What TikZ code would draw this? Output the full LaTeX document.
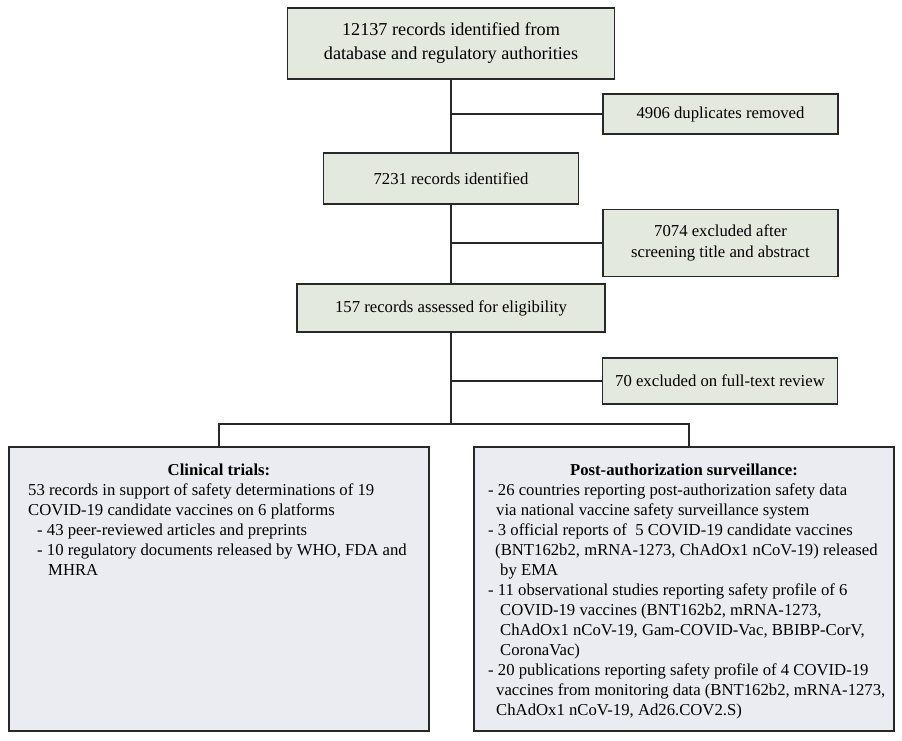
\documentclass[tikz,border=0pt]{standalone}
\usepackage{fontspec}
\setmainfont{Liberation Serif}
\definecolor{boxgreen}{RGB}{227,233,222}
\definecolor{boxgrey}{RGB}{235,236,242}
\definecolor{edgecol}{RGB}{40,40,40}
\tikzset{
  greenbox/.style={draw=edgecol, line width=1.5pt, fill=boxgreen, inner sep=0pt, align=center, font=\fontsize{16.7}{21}\selectfont},
  bigbox/.style={draw=edgecol, line width=1.5pt, fill=boxgrey, inner sep=0pt},
  link/.style={draw=edgecol, line width=1.5pt},
  bodyline/.style={inner sep=0pt, anchor=base west, font=\fontsize{16.7}{20}\selectfont},
  titleline/.style={inner sep=0pt, anchor=base, font=\fontsize{16.7}{20}\selectfont\bfseries},
}
\begin{document}
\begin{tikzpicture}[x=1pt,y=-1pt]
\useasboundingbox (0,0) rectangle (902,740);
% main flow boxes
\node[greenbox, minimum width=327pt, minimum height=71pt, font=\fontsize{18.2}{24}\selectfont] (top) at (451,43.5) {12137 records identified from\\database and regulatory authorities};
\node[greenbox, minimum width=235pt, minimum height=40pt] (dup) at (720.5,114) {4906 duplicates removed};
\node[greenbox, minimum width=255pt, minimum height=51pt] (r7231) at (451,178.5) {7231 records identified};
\node[greenbox, minimum width=235pt, minimum height=67pt] (excl) at (720.5,243) {7074 excluded after\\screening title and abstract};
\node[greenbox, minimum width=308pt, minimum height=48pt] (r157) at (451,308) {157 records assessed for eligibility};
\node[greenbox, minimum width=235pt, minimum height=46pt] (ft) at (720,381) {70 excluded on full-text review};
% bottom boxes
\node[bigbox, minimum width=420pt, minimum height=284pt] (left) at (219,589) {};
\node[bigbox, minimum width=420pt, minimum height=284pt] (right) at (684,589) {};
\coordinate (split) at (451,424);
\coordinate (rtop) at (689,447);
% connectors
\draw[link] (top.south) -- (r7231.north);
\draw[link] (dup.west) -- (dup.west -| top.south);
\draw[link] (r7231.south) -- (r157.north);
\draw[link] (excl.west) -- (excl.west -| r7231.south);
\draw[link] (r157.south) -- (split);
\draw[link] (ft.west) -- (ft.west -| r157.south);
\draw[link] (left.north) |- (split) -| (rtop);
% left box text
\node[titleline] (ltitle) at (219,475) {Clinical trials:};
\node[bodyline] (l1) at (28,495) {53 records in support of safety determinations of 19};
\node[bodyline] (l2) at (28,515) {COVID-19 candidate vaccines on 6 platforms};
\node[bodyline] (l3) at (37,535) {- 43 peer-reviewed articles and preprints};
\node[bodyline] (l4) at (37,555) {- 10 regulatory documents released by WHO, FDA and};
\node[bodyline] (l5) at (48,575) {MHRA};
% right box text
\node[titleline] (rtitle) at (684,475) {Post-authorization surveillance:};
\node[bodyline] (r1) at (488,495) {- 26 countries reporting post-authorization safety data};
\node[bodyline] (r2) at (496,515) {via national vaccine safety surveillance system};
\node[bodyline] (r3) at (488,535) {- 3 official reports of\ \ 5 COVID-19 candidate vaccines};
\node[bodyline] (r4) at (495,555) {(BNT162b2, mRNA-1273, ChAdOx1 nCoV-19) released};
\node[bodyline] (r5) at (500,575) {by EMA};
\node[bodyline] (r6) at (488,595) {- 11 observational studies reporting safety profile of 6};
\node[bodyline] (r7) at (500,615) {COVID-19 vaccines (BNT162b2, mRNA-1273,};
\node[bodyline] (r8) at (500,635) {ChAdOx1 nCoV-19, Gam-COVID-Vac, BBIBP-CorV,};
\node[bodyline] (r9) at (500,655) {CoronaVac)};
\node[bodyline] (r10) at (488,675) {- 20 publications reporting safety profile of 4 COVID-19};
\node[bodyline] (r11) at (496,695) {vaccines from monitoring data (BNT162b2, mRNA-1273,};
\node[bodyline] (r12) at (496,715) {ChAdOx1 nCoV-19, Ad26.COV2.S)};
\end{tikzpicture}
\end{document}
